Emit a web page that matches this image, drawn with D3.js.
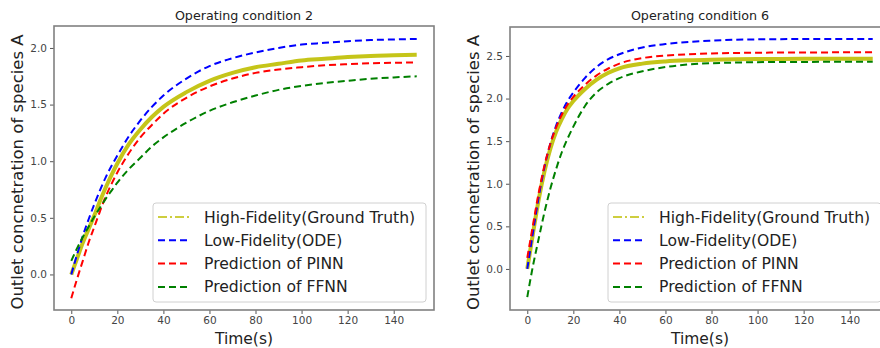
<!DOCTYPE html>
<html>
<head>
<meta charset="utf-8">
<script src="https://cdn.jsdelivr.net/npm/d3@7"></script>
<style>
  body { margin: 0; background: #fff; }
  text { font-family: "DejaVu Sans", sans-serif; }
</style>
</head>
<body>
<div id="chart"></div>
<script>
// time axis (s)
var time = [0, 2.5, 5, 7.5, 10, 12.5, 15, 17.5, 20, 25, 30, 35, 40, 50, 60, 70, 80, 90, 100, 110, 120, 130, 140, 150];

// operating condition 2
var hf2   = [0, 0.14, 0.28, 0.40, 0.52, 0.65, 0.77, 0.88, 0.98, 1.15, 1.28, 1.39, 1.48, 1.61, 1.71, 1.78, 1.83, 1.86, 1.89, 1.905, 1.92, 1.93, 1.935, 1.94];
var lf2   = [0, 0.175, 0.34, 0.485, 0.62, 0.745, 0.86, 0.96, 1.05, 1.22, 1.36, 1.48, 1.58, 1.73, 1.84, 1.91, 1.96, 2.0, 2.03, 2.045, 2.06, 2.07, 2.075, 2.08];
var pinn2 = [-0.21, -0.04, 0.12, 0.28, 0.42, 0.56, 0.69, 0.80, 0.9, 1.07, 1.21, 1.32, 1.42, 1.56, 1.66, 1.73, 1.78, 1.81, 1.83, 1.847, 1.857, 1.865, 1.869, 1.873];
var ffnn2 = [0.12, 0.23, 0.33, 0.42, 0.51, 0.59, 0.67, 0.74, 0.81, 0.93, 1.03, 1.13, 1.21, 1.34, 1.445, 1.52, 1.58, 1.63, 1.665, 1.69, 1.71, 1.728, 1.74, 1.75];

// operating condition 6
var hf6   = [0, 0.42, 0.82, 1.15, 1.41, 1.61, 1.76, 1.88, 1.97, 2.11, 2.22, 2.30, 2.355, 2.41, 2.436, 2.449, 2.456, 2.46, 2.463, 2.465, 2.466, 2.467, 2.468, 2.468];
var lf6   = [0, 0.43, 0.85, 1.20, 1.47, 1.68, 1.84, 1.97, 2.07, 2.24, 2.37, 2.46, 2.52, 2.60, 2.64, 2.665, 2.68, 2.69, 2.695, 2.697, 2.7, 2.7, 2.7, 2.7];
var pinn6 = [0.13, 0.52, 0.90, 1.22, 1.47, 1.66, 1.81, 1.93, 2.02, 2.16, 2.27, 2.35, 2.41, 2.475, 2.505, 2.52, 2.53, 2.535, 2.538, 2.54, 2.541, 2.542, 2.543, 2.543];
var ffnn6 = [-0.33, 0.04, 0.36, 0.67, 0.94, 1.17, 1.37, 1.53, 1.67, 1.91, 2.07, 2.17, 2.24, 2.32, 2.37, 2.4, 2.415, 2.422, 2.427, 2.429, 2.43, 2.431, 2.432, 2.433];

var xTicks = [0, 20, 40, 60, 80, 100, 120, 140];
var yTicks2 = [0, 0.5, 1.0, 1.5, 2.0];
var yTicks6 = [0, 0.5, 1.0, 1.5, 2.0, 2.5];

var legendLabels = ["High-Fidelity(Ground Truth)", "Low-Fidelity(ODE)", "Prediction of PINN", "Prediction of FFNN"];

var W = 880, H = 348;
var svg = d3.select("#chart").append("svg")
    .attr("width", W)
    .attr("height", H);

var panels = [
  { title: "Operating condition 2", left: 54, top: 26, yDom: [-0.314, 2.194], yTicks: yTicks2,
    series: [hf2, lf2, pinn2, ffnn2], legendX: 153 },
  { title: "Operating condition 6", left: 510, top: 27, yDom: [-0.482, 2.84], yTicks: yTicks6,
    series: [hf6, lf6, pinn6, ffnn6], legendX: 608 }
];

var styles = [
  { color: "#bfbf00", width: 4, dash: null, legendDash: "9,3,2,3", legendWidth: 1.6, opacity: 0.9 },
  { color: "#0000ff", width: 2, dash: "7,4", legendDash: "7,4", legendWidth: 2, opacity: 1 },
  { color: "#ff0000", width: 2, dash: "7,4", legendDash: "7,4", legendWidth: 2, opacity: 1 },
  { color: "#008000", width: 2, dash: "7,4", legendDash: "7,4", legendWidth: 2, opacity: 1 }
];

var plotW = 380, bottom = 310;

panels.forEach(function (p) {
  var x = d3.scaleLinear().domain([-7.5, 157.5]).range([p.left, p.left + plotW]);
  var y = d3.scaleLinear().domain(p.yDom).range([bottom, p.top]);

  var g = svg.append("g");

  // x axis
  var xa = g.append("g")
      .attr("transform", "translate(0," + bottom + ")")
      .call(d3.axisBottom(x).tickValues(xTicks).tickSize(4).tickPadding(3).tickFormat(d3.format("d")));
  // y axis
  var ya = g.append("g")
      .attr("transform", "translate(" + p.left + ",0)")
      .call(d3.axisLeft(y).tickValues(p.yTicks).tickSize(4).tickPadding(3).tickFormat(d3.format(".1f")));

  [xa, ya].forEach(function (a) {
    a.select(".domain").remove();
    a.selectAll(".tick line").attr("stroke", "#555").attr("stroke-width", 1);
    a.selectAll(".tick text")
      .attr("fill", "#444")
      .style("font-size", "10.5px")
      .style("font-family", "DejaVu Sans, sans-serif");
  });

  // lines
  var line = d3.line()
      .x(function (d, i) { return x(time[i]); })
      .y(function (d) { return y(d); })
      .curve(d3.curveMonotoneX);

  p.series.forEach(function (s, k) {
    var st = styles[k];
    g.append("path")
      .datum(s)
      .attr("d", line)
      .attr("fill", "none")
      .attr("stroke", st.color)
      .attr("stroke-width", st.width)
      .attr("stroke-opacity", st.opacity)
      .attr("stroke-dasharray", st.dash);
  });

  // frame
  g.append("rect")
    .attr("x", p.left)
    .attr("y", p.top)
    .attr("width", plotW)
    .attr("height", bottom - p.top)
    .attr("fill", "none")
    .attr("stroke", "#808080")
    .attr("stroke-width", 1.6);

  // title
  g.append("text")
    .attr("x", p.left + plotW / 2)
    .attr("y", 20)
    .attr("text-anchor", "middle")
    .style("font-size", "12.7px")
    .attr("fill", "#222")
    .text(p.title);

  // axis labels
  g.append("text")
    .attr("x", p.left + plotW / 2)
    .attr("y", 344)
    .attr("text-anchor", "middle")
    .style("font-size", "15.5px")
    .attr("fill", "#222")
    .text("Time(s)");

  g.append("text")
    .attr("transform", "translate(" + (p.left - 31) + "," + ((p.top + bottom) / 2 + 4) + ") rotate(-90)")
    .attr("text-anchor", "middle")
    .style("font-size", "16.5px")
    .attr("fill", "#222")
    .text("Outlet concnetration of species A");

  // legend
  var lg = g.append("g").attr("transform", "translate(" + p.legendX + ",203)");
  lg.append("rect")
    .attr("width", 273)
    .attr("height", 99)
    .attr("rx", 3)
    .attr("fill", "#fff")
    .attr("fill-opacity", 0.85)
    .attr("stroke", "#d0d0d0")
    .attr("stroke-width", 1);

  legendLabels.forEach(function (lab, k) {
    var st = styles[k];
    var yy = 14 + k * 23.3;
    lg.append("line")
      .attr("x1", 5).attr("x2", 37)
      .attr("y1", yy).attr("y2", yy)
      .attr("stroke", st.color)
      .attr("stroke-width", st.legendWidth)
      .attr("stroke-dasharray", st.legendDash);
    lg.append("text")
      .attr("x", 51)
      .attr("y", yy + 5.5)
      .style("font-size", "15.6px")
      .attr("fill", "#222")
      .text(lab);
  });
});
</script>
</body>
</html>
